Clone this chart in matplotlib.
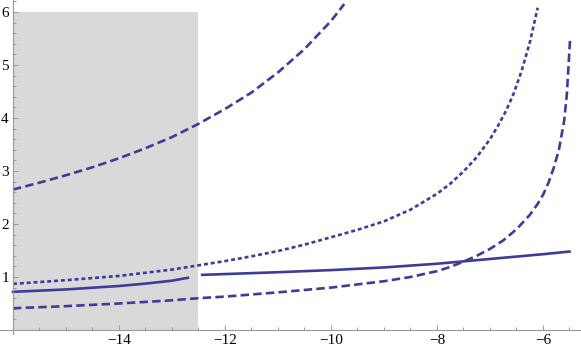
import numpy as np
import matplotlib
matplotlib.use("Agg")
import matplotlib.pyplot as plt
from matplotlib.ticker import FixedLocator

plt.rcParams['font.family'] = ['Liberation Serif', 'DejaVu Serif']

# values
upper_x = [-16, -15.5, -15, -14.5, -14, -13.5, -13, -12.5, -12, -11.5, -11, -10.5, -10, -9.75]
upper_y = [2.65, 2.78, 2.92, 3.07, 3.24, 3.43, 3.64, 3.89, 4.17, 4.48, 4.86, 5.30, 5.83, 6.15]

dot_x = [-16, -15, -14, -13, -12.5, -12, -11.5, -11, -10.5, -10, -9.5, -9, -8.5, -8,
         -7.75, -7.5, -7.25, -7, -6.85, -6.7, -6.55, -6.4, -6.25, -6.1]
dot_y = [0.87, 0.94, 1.02, 1.14, 1.22, 1.30, 1.39, 1.49, 1.61, 1.75, 1.89, 2.05, 2.27, 2.57,
         2.76, 2.99, 3.26, 3.60, 3.85, 4.13, 4.47, 4.90, 5.42, 6.08]

low_x = [-16, -15, -14, -13, -12.5, -12, -11, -10, -9.5, -9, -8.5, -8, -7.75, -7.5, -7.25,
         -7, -6.75, -6.5, -6.25, -6.1, -6, -5.9, -5.8, -5.7, -5.6, -5.55, -5.49]
low_y = [0.41, 0.45, 0.50, 0.56, 0.60, 0.63, 0.71, 0.80, 0.86, 0.92, 1.00, 1.11, 1.19, 1.29, 1.40,
         1.53, 1.69, 1.90, 2.17, 2.38, 2.55, 2.77, 3.05, 3.40, 3.95, 4.45, 5.47]

solid1_x = [-16, -15, -14, -13.5, -13, -12.7]
solid1_y = [0.72, 0.765, 0.83, 0.875, 0.93, 0.985]
solid2_x = [-12.43, -11, -10, -9, -8, -7, -6, -5.5]
solid2_y = [1.04, 1.09, 1.13, 1.18, 1.25, 1.34, 1.43, 1.48]

shade_x = [-16, -12.5]
shade_top = 6

blue = '#3d3d99'
lw = 1.9

fig = plt.figure(figsize=(5.81, 3.54), dpi=100)
ax = fig.add_axes([0, 0, 1, 1])
ax.set_facecolor('none')

ax.fill_between(shade_x, 0, shade_top, color='#d9d9d9', lw=0, zorder=0)

ax.plot(upper_x, upper_y, color=blue, lw=lw, dashes=(3.2, 1.6))
ax.plot(dot_x, dot_y, color=blue, lw=lw, dashes=(1.5, 1.1))
ax.plot(low_x, low_y, color=blue, lw=lw, dashes=(3.2, 1.6))
ax.plot(solid1_x, solid1_y, color=blue, lw=lw)
ax.plot(solid2_x, solid2_y, color=blue, lw=lw)

ax.set_xlim(-16.245, -5.283)
ax.set_ylim(-0.453, 6.226)

for s in ['top', 'right']:
    ax.spines[s].set_visible(False)
ax.spines['left'].set_position(('data', -16))
ax.spines['bottom'].set_position(('data', 0))
ax.spines['left'].set_bounds(-0.08, 6.226)
for s in ['left', 'bottom']:
    ax.spines[s].set_color('#999999')
    ax.spines[s].set_linewidth(0.8)

ax.set_xticks([-14, -12, -10, -8, -6])
ax.set_xticklabels(['\u221214', '\u221212', '\u221210', '\u22128', '\u22126'])
ax.xaxis.set_minor_locator(FixedLocator(np.arange(-16, -5.4, 0.5)))
ax.set_yticks([1, 2, 3, 4, 5, 6])
ax.yaxis.set_minor_locator(FixedLocator(np.arange(0.2, 6.21, 0.2)))

ax.tick_params(which='both', direction='in', color='#999999', width=0.7)
ax.tick_params(which='major', length=3.5, labelsize=11, pad=3)
ax.tick_params(which='minor', length=2)

fig.savefig('out.png', dpi=100)
